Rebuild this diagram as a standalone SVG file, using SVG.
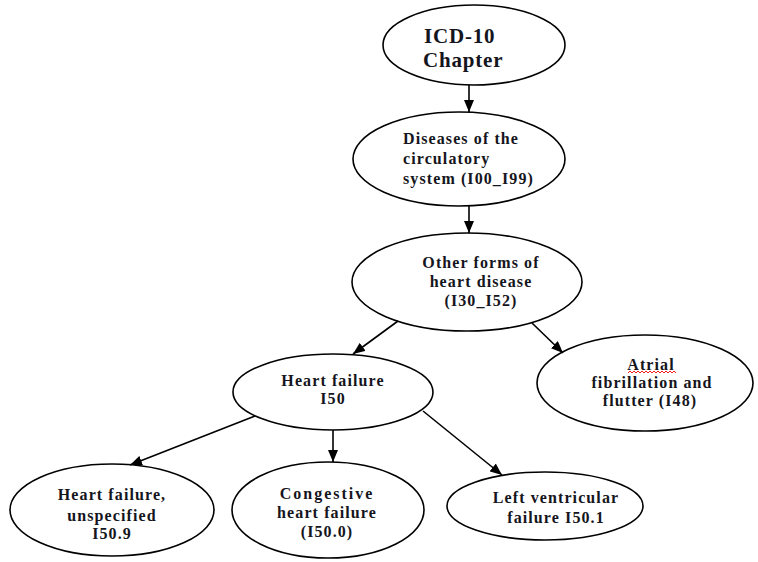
<svg xmlns="http://www.w3.org/2000/svg" width="758" height="562" viewBox="0 0 758 562">
<style>
.n ellipse{fill:#fff;stroke:#000;stroke-width:1.6}
text{font-family:"Liberation Serif","Times New Roman",serif;font-weight:bold;font-size:16px;fill:#151520;letter-spacing:1.1px}
.c text{}
.e line{stroke:#000;stroke-width:1.6;marker-end:url(#ah)}
.m{text-anchor:middle}
</style>
<defs>
<marker id="ah" viewBox="0 0 12 10" refX="12" refY="5" markerWidth="12" markerHeight="10" markerUnits="userSpaceOnUse" orient="auto">
<path d="M0,0 L12,5 L0,10 Z" fill="#000"/>
</marker>
</defs>
<rect width="758" height="562" fill="#fff"/>
<g id="n1" class="n">
<ellipse cx="474" cy="45" rx="91" ry="40"/>
<text x="424" y="43" style="font-size:21px;letter-spacing:0.8px">ICD-10</text>
<text x="423" y="67" style="font-size:21px;letter-spacing:0.8px">Chapter</text>
</g>
<g id="n2" class="n">
<ellipse cx="459" cy="159" rx="106" ry="47"/>
<text x="403" y="144">Diseases of the</text>
<text x="403" y="164">circulatory</text>
<text x="403" y="184">system (I00_I99)</text>
</g>
<g id="n3" class="n">
<ellipse cx="467" cy="282" rx="115" ry="49"/>
<text class="m" x="481" y="268">Other forms of</text>
<text class="m" x="481" y="287">heart disease</text>
<text class="m" x="481" y="306">(I30_I52)</text>
</g>
<g id="n4" class="n">
<ellipse cx="333" cy="392" rx="100" ry="38"/>
<text class="m" x="333" y="386">Heart failure</text>
<text class="m" x="333" y="404">I50</text>
</g>
<g id="n5" class="n">
<ellipse cx="645" cy="383" rx="108" ry="48"/>
<text class="m" x="651" y="370">Atrial</text>
<path d="M628,373 l2,-2 l2,2 l2,-2 l2,2 l2,-2 l2,2 l2,-2 l2,2 l2,-2 l2,2 l2,-2 l2,2 l2,-2 l2,2 l2,-2 l2,2 l2,-2 l2,2 l2,-2 l2,2 l2,-2 l2,2 l2,-2 l2,2" fill="none" stroke="#e00" stroke-width="0.9"/>
<text class="m" x="652" y="388">fibrillation and</text>
<text class="m" x="650" y="406">flutter (I48)</text>
</g>
<g id="n6" class="n">
<ellipse cx="112" cy="510" rx="102" ry="46"/>
<text class="m" x="112" y="500">Heart failure,</text>
<text class="m" x="112" y="521">unspecified</text>
<text class="m" x="112" y="539">I50.9</text>
</g>
<g id="n7" class="n">
<ellipse cx="328" cy="510" rx="96" ry="48"/>
<text class="m" x="327" y="499" style="letter-spacing:2px">Congestive</text>
<text class="m" x="327" y="518">heart failure</text>
<text class="m" x="327" y="537">(I50.0)</text>
</g>
<g id="n8" class="n">
<ellipse cx="545" cy="506" rx="98" ry="34"/>
<text class="m" x="556" y="503">Left ventricular</text>
<text class="m" x="556" y="523">failure I50.1</text>
</g>
<g id="edges" class="e">
<line x1="469" y1="85" x2="469" y2="112"/>
<line x1="469" y1="206" x2="469" y2="233"/>
<line x1="398" y1="321" x2="353" y2="354"/>
<line x1="532" y1="323" x2="563" y2="353"/>
<line x1="255" y1="416" x2="130" y2="465"/>
<line x1="333" y1="430" x2="333" y2="462"/>
<line x1="423" y1="411" x2="502" y2="475"/>
</g>
</svg>
